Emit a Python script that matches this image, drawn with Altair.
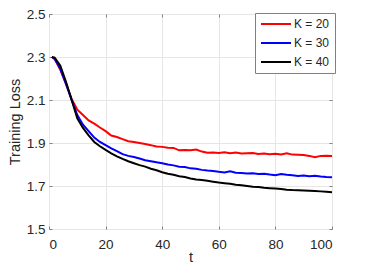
import altair as alt
import pandas as pd

t = [1] + list(range(2, 101, 2))

red = [2.300, 2.290, 2.240, 2.175, 2.105, 2.055, 2.030, 2.005, 1.990, 1.972, 1.955,
       1.935, 1.928, 1.918, 1.908, 1.905, 1.900, 1.895, 1.890, 1.884, 1.882,
       1.878, 1.877, 1.866, 1.868, 1.866, 1.870, 1.860, 1.855, 1.856, 1.854,
       1.857, 1.852, 1.856, 1.851, 1.852, 1.853, 1.849, 1.851, 1.848, 1.850,
       1.847, 1.852, 1.846, 1.845, 1.844, 1.840, 1.834, 1.840, 1.841, 1.840]

blue = [2.300, 2.292, 2.245, 2.175, 2.100, 2.030, 1.985, 1.955, 1.925, 1.905, 1.890,
        1.875, 1.862, 1.848, 1.840, 1.835, 1.828, 1.820, 1.815, 1.810, 1.806,
        1.800, 1.796, 1.790, 1.788, 1.782, 1.780, 1.775, 1.772, 1.770, 1.766,
        1.763, 1.768, 1.762, 1.760, 1.758, 1.759, 1.756, 1.757, 1.753, 1.750,
        1.756, 1.752, 1.750, 1.747, 1.749, 1.745, 1.748, 1.744, 1.742, 1.741]

black = [2.300, 2.297, 2.260, 2.185, 2.100, 2.015, 1.970, 1.935, 1.905, 1.885, 1.868,
         1.852, 1.838, 1.826, 1.815, 1.806, 1.797, 1.790, 1.780, 1.773, 1.764,
         1.757, 1.752, 1.745, 1.742, 1.735, 1.730, 1.728, 1.724, 1.720, 1.716,
         1.713, 1.710, 1.706, 1.703, 1.700, 1.697, 1.695, 1.692, 1.690, 1.688,
         1.686, 1.683, 1.681, 1.680, 1.679, 1.678, 1.677, 1.675, 1.673, 1.671]

series = ["K = 20", "K = 30", "K = 40"]
colors = ["#ff0000", "#0000ff", "#000000"]
x_ticks = [0, 20, 40, 60, 80, 100]
y_ticks = [1.5, 1.7, 1.9, 2.1, 2.3, 2.5]

rows = []
for name, vals in zip(series, [red, blue, black]):
    for ti, v in zip(t, vals):
        rows.append({"t": ti, "loss": v, "K": name})
df = pd.DataFrame(rows)

W, H = 283, 215
FONT = "Liberation Sans"
TXT = "#262626"
AX = "#808080"

xs = alt.Scale(domain=[0, 100], nice=False)
ys = alt.Scale(domain=[1.5, 2.5], nice=False)

main = alt.Chart(df).mark_line(strokeWidth=2).encode(
    x=alt.X("t:Q", scale=xs, title="t",
            axis=alt.Axis(values=x_ticks, orient="bottom", grid=True, ticks=False,
                          domain=False, labelFontSize=13.5, labelColor=TXT, labelPadding=8,
                          titleFontSize=14.5, titleFontWeight="normal", titleColor=TXT,
                          titlePadding=0, gridColor="#e6e6e6", labelFont=FONT, titleFont=FONT)),
    y=alt.Y("loss:Q", scale=ys, title="Training Loss",
            axis=alt.Axis(values=y_ticks, orient="left", grid=True, ticks=False,
                          domain=False, labelFontSize=13.5, labelColor=TXT, labelPadding=4,
                          format=".1f", titleFontSize=14.5, titleFontWeight="normal",
                          titleColor=TXT, titlePadding=4, gridColor="#e6e6e6",
                          labelFont=FONT, titleFont=FONT)),
    color=alt.Color("K:N", scale=alt.Scale(domain=series, range=colors),
                    legend=alt.Legend(title=None, orient="none", legendX=206, legendY=-1,
                                      symbolType="M-3,0H3", symbolSize=100,
                                      symbolStrokeWidth=2, symbolOffset=10,
                                      labelFontSize=12,
                                      labelFont=FONT, labelColor=TXT, rowPadding=7,
                                      padding=5, strokeColor="#808080", fillColor="white",
                                      labelOffset=12)),
)

def tick_layer(xorient, xoff, yorient, yoff):
    return alt.Chart(df).mark_line(opacity=0).encode(
        x=alt.X("t:Q", scale=xs, title=None,
                axis=alt.Axis(values=x_ticks, orient=xorient, offset=xoff, labels=False,
                              grid=False, domain=False, tickSize=3, tickColor=AX)),
        y=alt.Y("loss:Q", scale=ys, title=None,
                axis=alt.Axis(values=y_ticks, orient=yorient, offset=yoff, labels=False,
                              grid=False, domain=False, tickSize=3, tickColor=AX)),
        detail="K:N",
    )

ticks1 = tick_layer("top", -H, "right", -W)
ticks2 = tick_layer("bottom", -H, "left", -W)

chart = alt.layer(main, ticks1, ticks2).resolve_axis(x="independent", y="independent").properties(
    width=W, height=H,
    autosize=alt.AutoSizeParams(type="none"),
    padding={"left": 41, "top": 6, "right": 27, "bottom": 38},
).configure_view(stroke=AX, strokeWidth=1).configure(background="white")

chart.save("out.html", embed_options={"renderer": "svg", "actions": False})
